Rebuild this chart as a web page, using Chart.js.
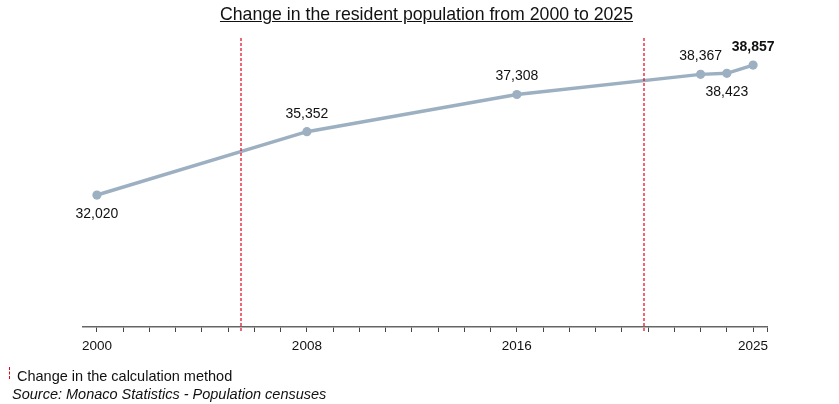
<!DOCTYPE html>
<html>
<head>
<meta charset="utf-8">
<script src="https://cdn.jsdelivr.net/npm/chart.js@4.4.1/dist/chart.umd.min.js"></script>
<style>
  body { margin: 0; background: #fff; font-family: "Liberation Sans", Arial, sans-serif; }
  #wrap { position: relative; width: 839px; height: 404px; }
  #title {
    position: absolute; left: 0; width: 853px; top: 4px;
    text-align: center; font-size: 17.7px; color: #111; text-decoration: underline;
  }
  .note { position: absolute; left: 17px; font-size: 14.5px; color: #111; white-space: nowrap; }
  #method { top: 368px; }
  #source { top: 386px; left: 12px; font-style: italic; }
  #mark {
    position: absolute; left: 9px; top: 367px; height: 12px; width: 0;
    border-left: 1px dashed #e8001c;
  }
</style>
</head>
<body>
<div id="wrap">
  <canvas id="popChart"></canvas>
  <div id="title">Change in the resident population from 2000 to 2025</div>
  <div id="mark"></div>
  <div class="note" id="method">Change in the calculation method</div>
  <div class="note" id="source">Source: Monaco Statistics - Population censuses</div>
</div>
<script>
// Census years and resident population
const years = [2000, 2008, 2016, 2023, 2024, 2025];
const population = [32020, 35352, 37308, 38367, 38423, 38857];
// label placement for each point: 'above' or 'below'
const labelSide = ['below', 'above', 'above', 'above', 'below', 'above'];
// years shown under the axis
const tickLabels = [2000, 2008, 2016, 2025];
// changes in the calculation method (red dashed lines)
const methodChanges = [2005.5, 2020.85];

const xMin = 1999.47, xMax = 2025.53;

// Draw the red dashed lines and the value labels
const extrasPlugin = {
    id: 'extras',
    afterDatasetsDraw(chart) {
        const ctx = chart.ctx;
        const x = chart.scales.x;
        const area = chart.chartArea;

        ctx.save();
        ctx.strokeStyle = '#e8001c';
        ctx.lineWidth = 1.2;
        ctx.setLineDash([3, 2]);
        methodChanges.forEach(function (yr) {
            const px = Math.round(x.getPixelForValue(yr));
            ctx.beginPath();
            ctx.moveTo(px, area.top);
            ctx.lineTo(px, area.bottom + 6);
            ctx.stroke();
        });
        ctx.restore();

        ctx.save();
        ctx.fillStyle = '#111';
        ctx.textAlign = 'center';
        ctx.textBaseline = 'middle';
        const points = chart.getDatasetMeta(0).data;
        points.forEach(function (pt, i) {
            const last = i === points.length - 1;
            ctx.font = (last ? 'bold ' : '') + '14px "Liberation Sans", Arial, sans-serif';
            const text = population[i].toLocaleString('en-US');
            const dy = labelSide[i] === 'above' ? -18 : 19;
            ctx.fillText(text, pt.x, pt.y + dy);
        });
        ctx.restore();
    }
};

const ctx = document.getElementById('popChart').getContext('2d');
new Chart(ctx, {
    type: 'line',
    data: {
        datasets: [{
            data: years.map((y, i) => ({ x: y, y: population[i] })),
            borderColor: '#9cb0c2',
            backgroundColor: '#9cb0c2',
            borderWidth: 3.5,
            pointRadius: 4.6,
            pointBorderWidth: 0,
            pointHoverRadius: 4.6,
            tension: 0
        }]
    },
    options: {
        responsive: true,
        maintainAspectRatio: false,
        animation: false,
        layout: { padding: { left: 83, right: 72, top: 38, bottom: 52 } },
        plugins: { legend: { display: false }, tooltip: { enabled: false } },
        scales: {
            x: {
                type: 'linear',
                min: xMin,
                max: xMax,
                afterBuildTicks(scale) {
                    const t = [];
                    for (let yr = 2000; yr <= 2025; yr++) t.push({ value: yr });
                    t.push({ value: xMax });
                    scale.ticks = t;
                },
                afterFit(scale) { scale.height = 25; },
                border: { color: '#666', width: 1.5 },
                grid: { drawOnChartArea: false, tickLength: 5, color: '#444', tickWidth: 1 },
                ticks: {
                    autoSkip: false,
                    maxRotation: 0,
                    padding: 6,
                    color: '#111',
                    font: { family: '"Liberation Sans", Arial, sans-serif', size: 13.5 },
                    callback: (v) => tickLabels.includes(v) ? String(v) : ''
                }
            },
            y: {
                display: false,
                min: 25080,
                max: 40280
            }
        }
    },
    plugins: [extrasPlugin]
});
</script>
</body>
</html>
